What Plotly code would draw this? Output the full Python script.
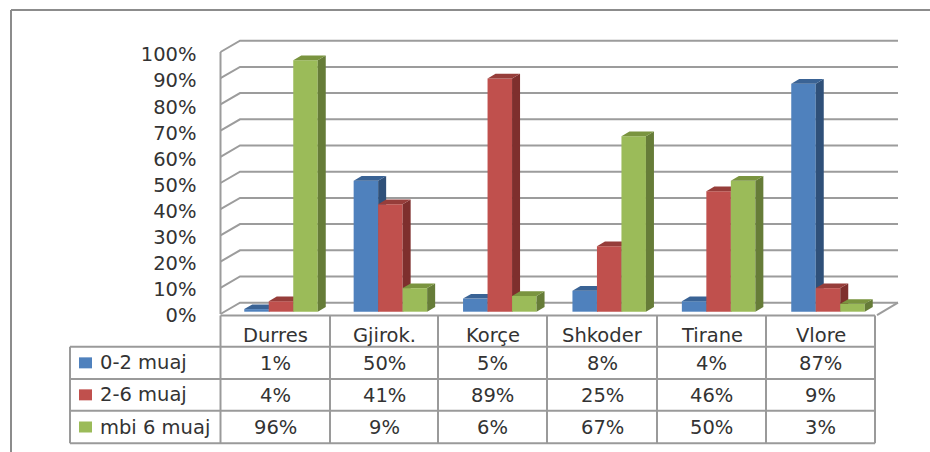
import plotly.graph_objects as go

categories = ["Durres", "Gjirok.", "Korçe", "Shkoder", "Tirane", "Vlore"]
series_names = ["0-2 muaj", "2-6 muaj", "mbi 6 muaj"]
s_0_2 = [1, 50, 5, 8, 4, 87]
s_2_6 = [4, 41, 89, 25, 46, 9]
s_6p = [96, 9, 6, 67, 50, 3]
y_ticks = [0, 10, 20, 30, 40, 50, 60, 70, 80, 90, 100]

series = [s_0_2, s_2_6, s_6p]
FRONT = ["#4F81BD", "#C0504D", "#9BBB59"]
SIDE = ["#2F5079", "#7E2F2D", "#667C38"]
TOP = ["#3A6395", "#963D3A", "#7A943F"]
GRID = "#9c9c9c"
BORDER = "#9a9a9a"
TEXT = "#333333"
FONT = "DejaVu Sans"
FS = 19.5

W, H = 930, 452
CAT_PX = 109.4      # px per category
PCT_PX = 2.62       # px per percent
X0_PX = 281.0       # px of first group centre
Y0_PX = 311.7       # px of 0% on the bar plane
BAR_PX = 24.5
DX_PX, DY_PX = 8.0, 4.7

x_range = [-X0_PX / CAT_PX, (W - X0_PX) / CAT_PX]
y_range = [-(H - Y0_PX) / PCT_PX, Y0_PX / PCT_PX]
cw = BAR_PX / CAT_PX
dx, dy = DX_PX / CAT_PX, DY_PX / PCT_PX


def xp(px):
    return px / W


def yp(py):
    return 1 - py / H


def data_x(px):
    return (px - X0_PX) / CAT_PX


def data_y_off(py_off):
    return py_off / PCT_PX


fig = go.Figure()

# ---- walls, floor and gridlines (side wall + back wall)
left_f, left_b, right_b, right_f = data_x(220.5), data_x(240), data_x(898), data_x(877)
drop_f = data_y_off(2.3)     # front plane lies lower than the bar plane
rise_b = data_y_off(9.0)     # back plane lies higher than the bar plane
gx, gy = [], []
for t in y_ticks:
    gx += [left_f, left_b, right_b, None]
    gy += [t - drop_f, t + rise_b, t + rise_b, None]
gx += [left_f, left_f, None, right_b, right_f, None]
gy += [-drop_f, 100 - drop_f, None, rise_b, -drop_f - 0.4, None]
fig.add_trace(go.Scatter(x=gx, y=gy, mode="lines", line=dict(color=GRID, width=2),
                         hoverinfo="skip", showlegend=False, xaxis="x", yaxis="y"))

# invisible trace that brings in the axis carrying the percent labels
fig.add_trace(go.Scatter(x=[0, 0], y=[0, 100], mode="none", hoverinfo="skip",
                         showlegend=False, xaxis="x", yaxis="y5"))

# ---- one overlaid subplot per series so each paints over the previous one
for k, (name, vals) in enumerate(zip(series_names, series)):
    xa = "x" if k == 0 else f"x{k + 1}"
    ya = f"y{k + 2}"
    offs = (k - 1.5) * cw
    sx, sy, tx, ty = [], [], [], []
    for i, v in enumerate(vals):
        l, r = i + offs, i + offs + cw
        sx += [r, r, r + dx, r + dx, r, None]
        sy += [0, v, v + dy, dy, 0, None]
        tx += [l, r, r + dx, l + dx, l, None]
        ty += [v, v, v + dy, v + dy, v, None]
    fig.add_trace(go.Scatter(x=sx, y=sy, mode="lines", fill="toself", fillcolor=SIDE[k],
                             line=dict(width=0), hoverinfo="skip", showlegend=False,
                             xaxis=xa, yaxis=ya))
    fig.add_trace(go.Scatter(x=tx, y=ty, mode="lines", fill="toself", fillcolor=TOP[k],
                             line=dict(width=0), hoverinfo="skip", showlegend=False,
                             xaxis=xa, yaxis=ya))
    fig.add_trace(go.Bar(x=list(range(len(categories))), y=vals, width=cw, offset=offs,
                         name=name, marker=dict(color=FRONT[k], line=dict(width=0)),
                         customdata=categories, showlegend=False,
                         hovertemplate="%{customdata}: %{y}%<extra>" + name + "</extra>",
                         xaxis=xa, yaxis=ya))

# ---- data table + chart frame, in page pixels
shapes, annots = [], []


def line(x1, y1, x2, y2, color=BORDER, width=2):
    shapes.append(dict(type="line", xref="paper", yref="paper", x0=xp(x1), y0=yp(y1),
                       x1=xp(x2), y1=yp(y2), line=dict(color=color, width=width)))


def text(px, py, s, anchor="center"):
    annots.append(dict(xref="paper", yref="paper", x=xp(px), y=yp(py), text=s, showarrow=False,
                       xanchor=anchor, yanchor="middle", font=dict(family=FONT, size=FS, color=TEXT)))


line(11, 10, 930, 10, "#8c8c8c", 2)
line(11, 10, 11, 452, "#8c8c8c", 2)

col_x = [220.5, 330, 438, 547, 657, 766, 875]
row_y = [346.7, 379, 410.7, 443.3]
head_y = 315.5
line(col_x[0], head_y, col_x[-1], head_y)
for cx in col_x:
    line(cx, head_y, cx, row_y[-1])
line(70, row_y[0], 70, row_y[-1])
for ry in row_y:
    line(70, ry, col_x[-1], ry)

for i, c in enumerate(categories):
    mid = (col_x[i] + col_x[i + 1]) / 2
    text(mid, (head_y + row_y[0]) / 2 + 4, c)
for k, (name, vals) in enumerate(zip(series_names, series)):
    mid_y = (row_y[k] + row_y[k + 1]) / 2
    shapes.append(dict(type="rect", xref="paper", yref="paper", x0=xp(79), x1=xp(92),
                       y0=yp(mid_y - 5.5), y1=yp(mid_y + 5.5), fillcolor=FRONT[k],
                       line=dict(width=0)))
    text(98, mid_y, name, "left")
    for i, v in enumerate(vals):
        text((col_x[i] + col_x[i + 1]) / 2, mid_y + 0.5, f"{v}%")

hidden = dict(visible=False, fixedrange=True)
layout = dict(
    width=W, height=H, margin=dict(l=0, r=0, t=0, b=0, pad=0),
    paper_bgcolor="white", plot_bgcolor="white", barmode="overlay", showlegend=False,
    shapes=shapes, annotations=annots,
    xaxis=dict(range=x_range, domain=[0, 1], **hidden),
    xaxis2=dict(range=x_range, overlaying="x", **hidden),
    xaxis3=dict(range=x_range, overlaying="x", **hidden),
    yaxis=dict(range=y_range, domain=[0, 1], **hidden),
    yaxis2=dict(range=y_range, overlaying="y", **hidden),
    yaxis3=dict(range=y_range, overlaying="y", anchor="x2", **hidden),
    yaxis4=dict(range=y_range, overlaying="y", anchor="x3", **hidden),
    # axis that only carries the percent labels, drawn on the chart's front plane
    yaxis5=dict(range=[-(H - 315.5) / 2.61, 315.5 / 2.61], overlaying="y", anchor="free",
                position=196.5 / W, side="left", tickvals=y_ticks, ticktext=[f"{t}%" for t in y_ticks],
                ticks="", showgrid=False, zeroline=False, showline=False, fixedrange=True,
                tickfont=dict(family=FONT, size=FS, color=TEXT)),
)
fig.update_layout(**layout)
fig.update_traces(cliponaxis=False, selector=dict(type="bar"))

fig.write_html("out.html", config={"displayModeBar": False},
               post_script="document.body.style.margin='0';")
